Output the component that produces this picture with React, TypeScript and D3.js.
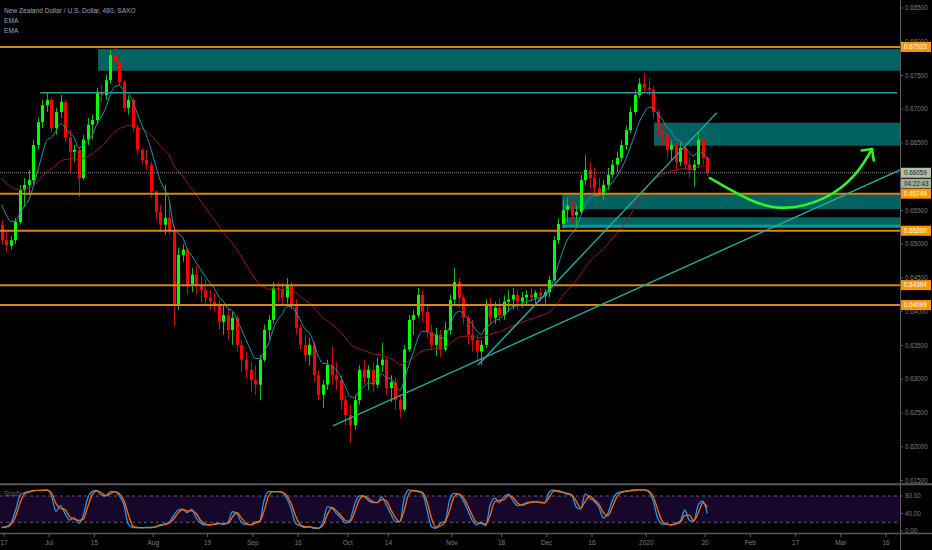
import React, { useEffect, useRef } from 'react'
import * as d3 from 'd3'

const W = 932
const H = 550
const AXIS_X = 900

// NZDUSD daily candles in pips (x 0.0001), Fri Jun 14 2019 .. Mon Jan 20 2020
const OPEN = [
  6529, 6506, 6498, 6506, 6533, 6580, 6588, 6595, 6647, 6681,
  6706, 6714, 6672, 6696, 6711, 6658, 6637, 6640, 6598, 6655,
  6677, 6684, 6726, 6721, 6743, 6780, 6770, 6740, 6702, 6714,
  6672, 6640, 6625, 6618, 6578, 6548, 6529, 6539, 6521, 6410,
  6484, 6492, 6440, 6455, 6440, 6432, 6421, 6415, 6410, 6385,
  6395, 6373, 6391, 6351, 6329, 6314, 6299, 6292, 6329, 6373,
  6388, 6435, 6432, 6421, 6440, 6410, 6376, 6351, 6336, 6351,
  6306, 6277, 6292, 6321, 6306, 6299, 6269, 6247, 6232, 6269,
  6314, 6302, 6314, 6292, 6321, 6329, 6287, 6296, 6269, 6255,
  6344, 6388, 6395, 6425, 6400, 6370, 6351, 6366, 6344, 6373,
  6418, 6444, 6421, 6391, 6366, 6358, 6341, 6351, 6410, 6391,
  6406, 6395, 6415, 6418, 6425, 6415, 6421, 6425, 6421, 6428,
  6424, 6429, 6447, 6506, 6530, 6551, 6557, 6543, 6548, 6595,
  6610, 6598, 6583, 6573, 6588, 6603, 6618, 6628, 6647, 6669,
  6696, 6721, 6738, 6732, 6729, 6696, 6669, 6662, 6640, 6647,
  6622, 6643, 6618, 6610, 6618, 6655, 6628,
]
const HIGH = [
  6536, 6518, 6512, 6539, 6588, 6598, 6610, 6655, 6687, 6714,
  6724, 6717, 6702, 6721, 6714, 6669, 6647, 6643, 6662, 6687,
  6692, 6732, 6736, 6751, 6788, 6792, 6789, 6743, 6720, 6717,
  6677, 6643, 6640, 6622, 6580, 6558, 6588, 6566, 6527, 6495,
  6500, 6495, 6465, 6468, 6453, 6447, 6432, 6428, 6418, 6410,
  6406, 6400, 6395, 6358, 6341, 6326, 6321, 6336, 6381, 6395,
  6444, 6444, 6443, 6450, 6444, 6418, 6381, 6366, 6361, 6355,
  6314, 6299, 6329, 6348, 6326, 6306, 6277, 6262, 6277, 6321,
  6329, 6321, 6326, 6332, 6354, 6332, 6306, 6302, 6277, 6351,
  6395, 6403, 6435, 6432, 6410, 6381, 6376, 6373, 6385, 6425,
  6465, 6450, 6425, 6395, 6388, 6366, 6358, 6418, 6421, 6415,
  6421, 6424, 6432, 6435, 6432, 6429, 6432, 6435, 6432, 6435,
  6434, 6453, 6512, 6539, 6566, 6569, 6566, 6558, 6603, 6632,
  6622, 6613, 6598, 6595, 6613, 6625, 6637, 6655, 6675, 6703,
  6729, 6746, 6754, 6746, 6735, 6699, 6677, 6669, 6655, 6652,
  6652, 6647, 6628, 6625, 6665, 6658, 6629,
]
const LOW = [
  6499, 6489, 6492, 6500, 6529, 6555, 6573, 6589, 6640, 6672,
  6696, 6666, 6662, 6687, 6652, 6607, 6622, 6570, 6595, 6647,
  6655, 6678, 6711, 6714, 6738, 6758, 6735, 6696, 6692, 6666,
  6632, 6618, 6610, 6569, 6536, 6518, 6514, 6514, 6378, 6403,
  6474, 6425, 6429, 6426, 6413, 6412, 6403, 6400, 6373, 6366,
  6358, 6351, 6341, 6311, 6302, 6281, 6277, 6269, 6326, 6358,
  6382, 6415, 6410, 6412, 6403, 6366, 6344, 6326, 6321, 6296,
  6269, 6257, 6284, 6292, 6284, 6255, 6232, 6206, 6225, 6262,
  6292, 6284, 6281, 6287, 6311, 6277, 6266, 6255, 6243, 6252,
  6341, 6366, 6391, 6385, 6361, 6344, 6335, 6333, 6341, 6366,
  6410, 6406, 6381, 6351, 6341, 6329, 6321, 6346, 6381, 6382,
  6385, 6388, 6400, 6403, 6403, 6406, 6409, 6415, 6413, 6415,
  6412, 6421, 6444, 6500, 6524, 6533, 6530, 6524, 6545, 6588,
  6583, 6573, 6555, 6566, 6580, 6598, 6607, 6622, 6640, 6665,
  6692, 6717, 6726, 6721, 6687, 6659, 6647, 6628, 6625, 6610,
  6616, 6610, 6598, 6585, 6613, 6618, 6601,
]
const CLOSE = [
  6506, 6498, 6506, 6533, 6580, 6588, 6595, 6647, 6681, 6706,
  6714, 6672, 6696, 6711, 6658, 6637, 6640, 6598, 6655, 6677,
  6684, 6726, 6721, 6743, 6780, 6770, 6740, 6702, 6714, 6672,
  6640, 6625, 6618, 6578, 6548, 6529, 6539, 6521, 6410, 6484,
  6492, 6440, 6455, 6440, 6432, 6421, 6415, 6410, 6385, 6395,
  6373, 6391, 6351, 6329, 6314, 6299, 6292, 6329, 6373, 6388,
  6435, 6432, 6421, 6440, 6410, 6376, 6351, 6336, 6351, 6306,
  6277, 6292, 6321, 6306, 6299, 6269, 6247, 6232, 6269, 6314,
  6302, 6314, 6292, 6321, 6329, 6287, 6296, 6269, 6255, 6344,
  6388, 6395, 6425, 6400, 6370, 6351, 6366, 6344, 6373, 6418,
  6444, 6421, 6391, 6366, 6358, 6341, 6351, 6410, 6391, 6406,
  6395, 6415, 6418, 6425, 6415, 6421, 6425, 6421, 6428, 6424,
  6429, 6447, 6506, 6530, 6551, 6557, 6543, 6548, 6595, 6610,
  6598, 6583, 6573, 6588, 6603, 6618, 6628, 6647, 6669, 6696,
  6721, 6738, 6732, 6729, 6696, 6669, 6662, 6640, 6647, 6622,
  6643, 6618, 6610, 6618, 6655, 6628, 6605.9,
]
// stochastic %K read per day
const STOCH_K = [
  8, 10, 18, 45, 80, 88, 90, 93, 93, 93,
  94, 80, 45, 58, 40, 25, 30, 18, 35, 75,
  90, 93, 82, 80, 90, 90, 80, 60, 15, 8,
  8, 7, 8, 8, 10, 14, 16, 20, 35, 48,
  50, 42, 50, 30, 18, 14, 14, 16, 18, 15,
  20, 44, 40, 20, 15, 14, 21, 22, 70, 90,
  90, 90, 88, 75, 50, 17, 12, 8, 10, 6,
  6, 20, 55, 52, 40, 30, 18, 25, 60, 80,
  80, 70, 65, 65, 78, 60, 40, 22, 21, 75,
  94, 92, 90, 86, 50, 10, 6, 18, 22, 70,
  86, 84, 70, 48, 25, 14, 20, 12, 60, 75,
  65, 78, 84, 70, 58, 60, 65, 66, 67, 65,
  64, 88, 94, 90, 88, 84, 82, 55, 50, 85,
  75, 68, 55, 30, 40, 70, 86, 90, 91, 93,
  94, 94, 94, 90, 70, 30, 16, 16, 13, 18,
  22, 48, 25, 22, 60, 68, 40,
]

const TITLE = 'New Zealand Dollar / U.S. Dollar, 480, SAXO'
const DATE_TICKS: [string, string][] = [
  ['2019-06-17', '17'], ['2019-07-01', 'Jul'], ['2019-07-15', '15'], ['2019-08-01', 'Aug'],
  ['2019-08-19', '19'], ['2019-09-02', 'Sep'], ['2019-09-16', '16'], ['2019-10-01', 'Oct'],
  ['2019-10-14', '14'], ['2019-11-01', 'Nov'], ['2019-11-18', '18'], ['2019-12-02', 'Dec'],
  ['2019-12-16', '16'], ['2020-01-01', '2020'], ['2020-01-20', '20'], ['2020-02-03', 'Feb'],
  ['2020-02-17', '17'], ['2020-03-02', 'Mar'], ['2020-03-16', '16'],
]
const LEVELS = [0.67923, 0.65749, 0.652, 0.64394, 0.64099]
const LAST_PRICE = 0.66059
const COUNTDOWN = '04:22:43'
// zones: start trading-day (0 = Jun 17), top, bottom
const ZONES: [number, number, number][] = [
  [20.8, 0.6789, 0.6757],
  [143.7, 0.668, 0.6646],
  [123.4, 0.6574, 0.6552],
  [123.4, 0.654, 0.6524],
]
const ZONE_STRIPE: [number, number, number] = [123.4, 0.6529, 0.6525]
const RESIST_LINE: [number, number] = [8, 0.67245]
const TRENDS: [number, number, number, number][] = [
  [72.7, 0.6231, 198.1, 0.661],
  [104.8, 0.6321, 157.6, 0.6695],
]
const ARROW_PATH: [number, number][] = [
  [156.1, 0.6598], [164.9, 0.6566], [172.7, 0.6554], [181.5, 0.6569], [188.1, 0.6603], [191.9, 0.6641],
]
const ARROW_HEAD: [number, number][] = [[189.6, 0.6639], [191.9, 0.6641], [192.3, 0.6624]]

const FONT = 'Liberation Sans, Arial, sans-serif'

function tradingIndex(iso: string) {
  const start = Date.UTC(2019, 5, 17)
  const t = Date.parse(iso + 'T00:00:00Z')
  let n = 0
  for (let d = start; d < t; d += 86400000) {
    const wd = new Date(d).getUTCDay()
    if (wd !== 0 && wd !== 6) n++
  }
  return n
}

function ema(values: number[], period: number, seed: number) {
  const k = 2 / (period + 1)
  let prev = seed
  return values.map(v => (prev = v * k + prev * (1 - k)))
}

export default function App() {
  const svgRef = useRef<SVGSVGElement | null>(null)

  useEffect(() => {
    const svg = d3.select(svgRef.current)
    svg.selectAll('*').remove()

    const x = d3.scaleLinear().domain([0, 195]).range([4, 886])
    const y = d3.scaleLinear().domain([0.615, 0.685]).range([480.5, 8])
    const ys = d3.scaleLinear().domain([0, 100]).range([531, 487.25])

    const candles = CLOSE.map((c, p) => ({
      day: p - 1,
      o: OPEN[p] / 1e4, h: HIGH[p] / 1e4, l: LOW[p] / 1e4, c: c / 1e4,
    }))

    svg.append('rect').attr('width', W).attr('height', H).attr('fill', '#000')

    const defs = svg.append('defs')
    defs.append('clipPath').attr('id', 'pc').append('rect')
      .attr('x', 0).attr('y', 0).attr('width', AXIS_X).attr('height', 482)
    defs.append('clipPath').attr('id', 'sc').append('rect')
      .attr('x', 0).attr('y', 486).attr('width', AXIS_X).attr('height', 46)

    const g = svg.append('g').attr('clip-path', 'url(#pc)')

    // zones
    ZONES.forEach(([s, top, bot]) => {
      g.append('rect').attr('x', x(s)).attr('y', y(top))
        .attr('width', AXIS_X - x(s)).attr('height', y(bot) - y(top))
        .attr('fill', '#006361')
    })
    g.append('rect').attr('x', x(ZONE_STRIPE[0])).attr('y', y(ZONE_STRIPE[1]))
      .attr('width', AXIS_X - x(ZONE_STRIPE[0])).attr('height', y(ZONE_STRIPE[2]) - y(ZONE_STRIPE[1]))
      .attr('fill', '#0c9a98')

    // candles
    const bw = 3
    candles.forEach(d => {
      const cx = Math.round(x(d.day + 0.5)) + 0.5
      const up = d.c >= d.o
      g.append('line').attr('x1', cx).attr('x2', cx).attr('y1', y(d.h)).attr('y2', y(d.l))
        .attr('stroke', up ? '#18b818' : '#c01010').attr('stroke-width', 1)
      const top = y(Math.max(d.o, d.c))
      const hh = Math.max(1, y(Math.min(d.o, d.c)) - top)
      g.append('rect').attr('x', cx - bw / 2).attr('y', top).attr('width', bw).attr('height', hh)
        .attr('fill', up ? '#00ff00' : '#ff0000')
    })

    // EMAs
    const closes = candles.map(d => d.c)
    const emaFast = ema(closes, 7, 0.6576)
    const emaSlow = ema(closes, 30, 0.6603)
    const line = d3.line<number>().x((_, i) => x(i - 1 + 0.5)).y(v => y(v)).curve(d3.curveMonotoneX)
    g.append('path').attr('d', line(emaSlow)).attr('fill', 'none').attr('stroke', '#9c1c1c').attr('stroke-width', 1)
    g.append('path').attr('d', line(emaFast)).attr('fill', 'none').attr('stroke', '#2193b0').attr('stroke-width', 1)

    // horizontal levels
    LEVELS.forEach(v => {
      g.append('line').attr('x1', 0).attr('x2', AXIS_X).attr('y1', y(v)).attr('y2', y(v))
        .attr('stroke', '#d48a12').attr('stroke-width', 2)
    })
    g.append('line').attr('x1', x(RESIST_LINE[0])).attr('x2', AXIS_X - 3)
      .attr('y1', y(RESIST_LINE[1])).attr('y2', y(RESIST_LINE[1]))
      .attr('stroke', '#1fa196').attr('stroke-width', 1.5)

    // trend lines
    TRENDS.forEach(([d1, p1, d2, p2]) => {
      g.append('line').attr('x1', x(d1)).attr('y1', y(p1)).attr('x2', x(d2)).attr('y2', y(p2))
        .attr('stroke', '#26aa9e').attr('stroke-width', 1.4)
    })

    // last price line
    g.append('line').attr('x1', 0).attr('x2', AXIS_X).attr('y1', y(LAST_PRICE)).attr('y2', y(LAST_PRICE))
      .attr('stroke', '#8a8a8a').attr('stroke-width', 1).attr('stroke-dasharray', '1,1')

    // projected path arrow
    const al = d3.line<[number, number]>().x(d => x(d[0])).y(d => y(d[1]))
    g.append('path').attr('d', al.curve(d3.curveNatural)(ARROW_PATH)).attr('fill', 'none')
      .attr('stroke', '#2ef22e').attr('stroke-width', 2.6).attr('stroke-linecap', 'round')
    g.append('path').attr('d', d3.line<[number, number]>().x(d => x(d[0])).y(d => y(d[1]))(ARROW_HEAD))
      .attr('fill', 'none').attr('stroke', '#2ef22e').attr('stroke-width', 2.6)
      .attr('stroke-linecap', 'round').attr('stroke-linejoin', 'round')

    // stoch panel
    const s = svg.append('g').attr('clip-path', 'url(#sc)')
    s.append('rect').attr('x', 0).attr('y', ys(80)).attr('width', AXIS_X).attr('height', ys(20) - ys(80))
      .attr('fill', '#17082b')
    ;[80, 20].forEach(v => {
      s.append('line').attr('x1', 0).attr('x2', AXIS_X).attr('y1', ys(v)).attr('y2', ys(v))
        .attr('stroke', '#77708a').attr('stroke-dasharray', '3,3').attr('stroke-width', 0.8)
    })
    const stochD = STOCH_K.map((v, i) => (i === 0 ? v : (v + STOCH_K[i - 1]) / 2))
    const sl = d3.line<number>().x((_, i) => x(i - 1 + 0.5)).y(v => ys(v)).curve(d3.curveMonotoneX)
    s.append('path').attr('d', sl(STOCH_K)).attr('fill', 'none').attr('stroke', '#2196f3').attr('stroke-width', 1.3)
    s.append('path').attr('d', sl(stochD)).attr('fill', 'none').attr('stroke', '#ff6a00').attr('stroke-width', 1.3)
    svg.append('text').attr('x', 4).attr('y', 496).attr('fill', '#6e6e6e')
      .attr('font-family', FONT).attr('font-size', 6.5).text('Stoch')

    // panel borders and axes
    svg.append('line').attr('x1', 0).attr('x2', W).attr('y1', 484.3).attr('y2', 484.3)
      .attr('stroke', '#585858').attr('stroke-width', 2)
    svg.append('line').attr('x1', 0).attr('x2', W).attr('y1', 533.5).attr('y2', 533.5)
      .attr('stroke', '#585858').attr('stroke-width', 1.5)
    svg.append('line').attr('x1', AXIS_X + 0.5).attr('x2', AXIS_X + 0.5).attr('y1', 0).attr('y2', H)
      .attr('stroke', '#5a5a5a').attr('stroke-width', 1)

    // price axis; the last-price label hides the tick under it
    const ly = y(LAST_PRICE)
    y.ticks(14).forEach(v => {
      svg.append('line').attr('x1', AXIS_X).attr('x2', AXIS_X + 3).attr('y1', y(v)).attr('y2', y(v))
        .attr('stroke', '#5a5a5a')
      if (Math.abs(y(v) - ly) < 14) return
      svg.append('text').attr('x', 905).attr('y', y(v) + 2.2).attr('fill', '#7c7c7c')
        .attr('font-family', FONT).attr('font-size', 6.3).text(d3.format('.5f')(v))
    })
    ;[80, 40, 0].forEach(v => {
      svg.append('line').attr('x1', AXIS_X).attr('x2', AXIS_X + 3).attr('y1', ys(v)).attr('y2', ys(v))
        .attr('stroke', '#5a5a5a')
      svg.append('text').attr('x', 905).attr('y', ys(v) + 2.2).attr('fill', '#7c7c7c')
        .attr('font-family', FONT).attr('font-size', 6.3).text(d3.format('.2f')(v))
    })
    LEVELS.forEach(v => {
      svg.append('rect').attr('x', 901).attr('y', y(v) - 5).attr('width', 30).attr('height', 10)
        .attr('fill', '#ff9800')
      svg.append('text').attr('x', 904).attr('y', y(v) + 2.3).attr('fill', '#fff')
        .attr('font-family', FONT).attr('font-size', 6.3).text(d3.format('.5f')(v))
    })
    svg.append('rect').attr('x', 901).attr('y', ly - 5).attr('width', 30).attr('height', 10).attr('fill', '#b3bfa6')
    svg.append('rect').attr('x', 901).attr('y', ly + 6).attr('width', 30).attr('height', 9.5).attr('fill', '#a2ae95')
    svg.append('text').attr('x', 904).attr('y', ly + 2.3).attr('fill', '#1e1e1e')
      .attr('font-family', FONT).attr('font-size', 6.3).text(d3.format('.5f')(LAST_PRICE))
    svg.append('text').attr('x', 904).attr('y', ly + 13).attr('fill', '#1e1e1e')
      .attr('font-family', FONT).attr('font-size', 6.3).text(COUNTDOWN)

    // time axis
    DATE_TICKS.forEach(([iso, label]) => {
      const tx = x(tradingIndex(iso))
      svg.append('line').attr('x1', tx).attr('x2', tx).attr('y1', 534).attr('y2', 537).attr('stroke', '#5a5a5a')
      svg.append('text').attr('x', tx).attr('y', 545).attr('text-anchor', 'middle').attr('fill', '#7c7c7c')
        .attr('font-family', FONT).attr('font-size', 6.5).text(label)
    })

    // legend
    ;[TITLE, 'EMA', 'EMA'].forEach((t, i) => {
      svg.append('text').attr('x', 4).attr('y', 12.5 + i * 10).attr('fill', '#a0a3ab')
        .attr('font-family', FONT).attr('font-size', 6.6).text(t)
    })
  }, [])

  return (
    <svg
      ref={svgRef}
      width={W}
      height={H}
      style={{ position: 'absolute', left: 0, top: 0, display: 'block' }}
    />
  )
}
